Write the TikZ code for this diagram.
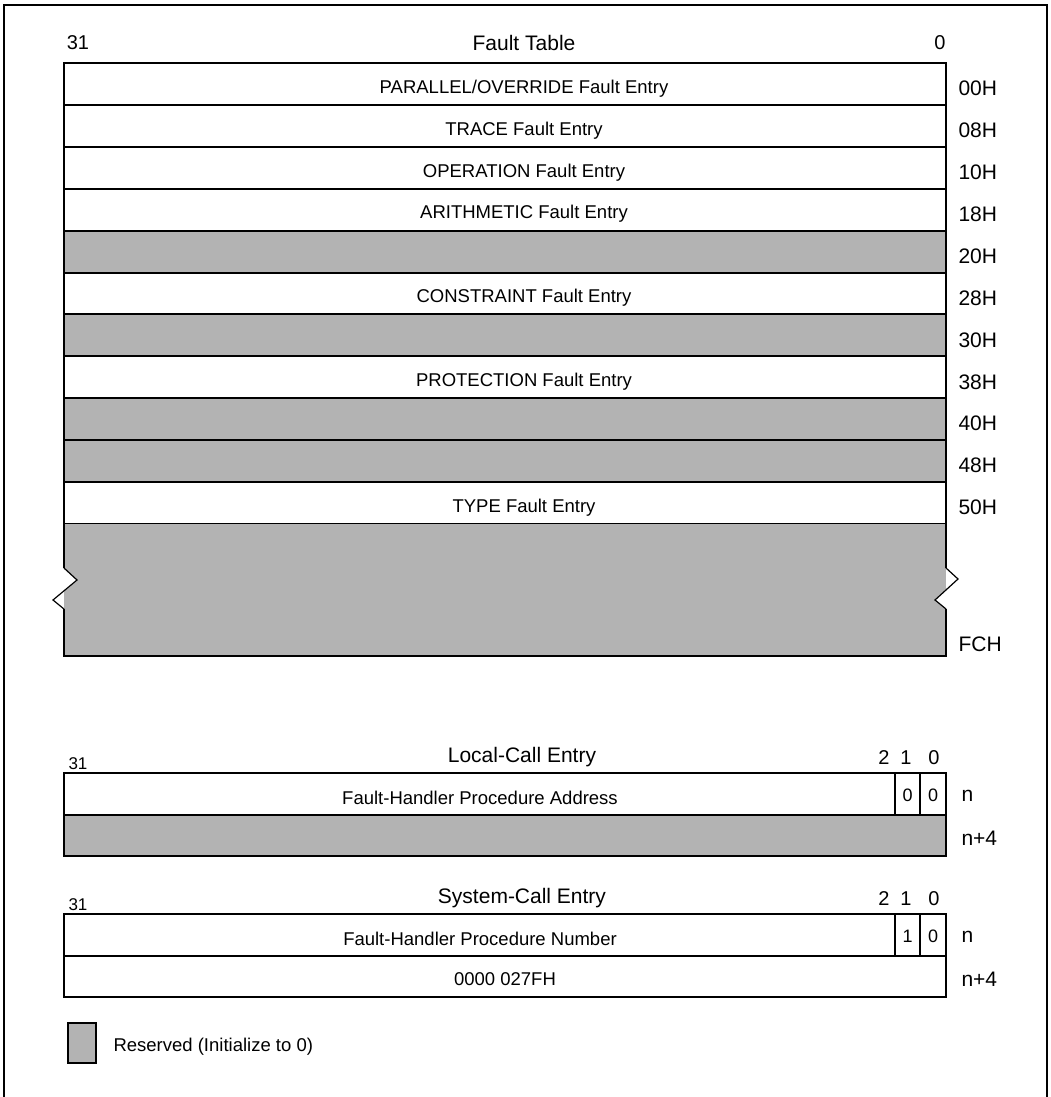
\documentclass[tikz,border=0pt]{standalone}
\usepackage{fontspec}
\setmainfont{Liberation Sans}
\usepackage{xcolor}
\usepackage{tikz}
\usetikzlibrary{positioning}

\definecolor{resgray}{RGB}{179,179,179}
\tikzset{
  cell/.style={draw=black,line width=2pt},
  entry/.style={font=\fontsize{18.5}{20}\selectfont},
  addr/.style={anchor=west,font=\fontsize{21}{24}\selectfont},
  bitno/.style={font=\fontsize{20}{22}\selectfont},
  cellbit/.style={font=\fontsize{18}{20}\selectfont},
  heading/.style={font=\fontsize{21}{24}\selectfont}
}

\begin{document}
\begin{tikzpicture}[x=1pt,y=-1pt,line join=miter]
\useasboundingbox (0,0) rectangle (1050,1097);
% outer frame
\draw[line width=2pt] (4,1097) -- (4,5) -- (1047,5) -- (1047,1097);
% fault table
\node[bitno] (ft31) at (78,43) {31};
\node[heading] (fttitle) at (524,43) {Fault Table};
\node[bitno] (ft0) at (940,43) {0};
\foreach \i/\txt/\adr/\col in {
  0/{PARALLEL/OVERRIDE Fault Entry}/00H/white,
  1/TRACE Fault Entry/08H/white,
  2/OPERATION Fault Entry/10H/white,
  3/ARITHMETIC Fault Entry/18H/white,
  4/{}/20H/resgray,
  5/CONSTRAINT Fault Entry/28H/white,
  6/{}/30H/resgray,
  7/PROTECTION Fault Entry/38H/white,
  8/{}/40H/resgray,
  9/{}/48H/resgray,
  10/TYPE Fault Entry/50H/white}
{
  \pgfmathsetmacro\rt{63+41.9*\i}
  \draw[cell,fill=\col] (64,\rt) rectangle (946,\rt+41.9);
  \node[entry] (e\i) at (524,\rt+25.5) {\txt};
  \node[addr] (a\i) at (955,\rt+25.5) {\adr};
}
% reserved block with break marks
\fill[resgray] (64,524) rectangle (946,656);
\fill[white] (63,568) -- (77,580) -- (63,592) -- cycle;
\fill[white] (947,589) -- (935,600) -- (947,609) -- cycle;
\draw[cell] (64,568) -- (64,524);
\draw[cell] (946,524) -- (946,568);
\draw[cell] (64,609) -- (64,656) -- (946,656) -- (946,609);
\draw[line width=1.2pt] (64,568) -- (77,580) -- (53,600) -- (64,609);
\draw[line width=1.2pt] (946,568) -- (958,579) -- (935,600) -- (946,609);
\node[addr] (afc) at (955,644) {FCH};
% local-call and system-call entries
\foreach \nm/\rt/\title/\hi/\bone/\lofill/\lo in {
  lc/773/Local-Call Entry/Fault-Handler Procedure Address/0/resgray/{},
  sc/914/System-Call Entry/Fault-Handler Procedure Number/1/white/0000 027FH}
{
  \node[font=\fontsize{17}{19}\selectfont] (\nm31) at (78,\rt-9) {31};
  \node[heading] (\nm title) at (522,\rt-16) {\title};
  \node[bitno] (\nm b2) at (884,\rt-15) {2};
  \node[bitno] (\nm b1) at (906,\rt-15) {1};
  \node[bitno] (\nm b0) at (934,\rt-15) {0};
  \draw[cell] (64,\rt) rectangle (946,\rt+42);
  \draw[cell,fill=\lofill] (64,\rt+42) rectangle (946,\rt+83);
  \draw[cell] (895,\rt) rectangle (920,\rt+42);
  \draw[cell] (920,\rt) rectangle (946,\rt+42);
  \node[entry] (\nm hi) at (480,\rt+25) {\hi};
  \node[entry] (\nm lo) at (505,\rt+65) {\lo};
  \node[cellbit] (\nm c1) at (907.5,\rt+22) {\bone};
  \node[cellbit] (\nm c0) at (933,\rt+22) {0};
  \node[addr] (\nm n) at (958,\rt+23) {n};
  \node[addr] (\nm n4) at (958,\rt+65) {n+4};
}
% legend
\draw[cell,fill=resgray] (68,1023) rectangle (96,1063);
\node[entry,anchor=west] (legtxt) at (110,1047) {Reserved (Initialize to 0)};
\end{tikzpicture}
\end{document}
